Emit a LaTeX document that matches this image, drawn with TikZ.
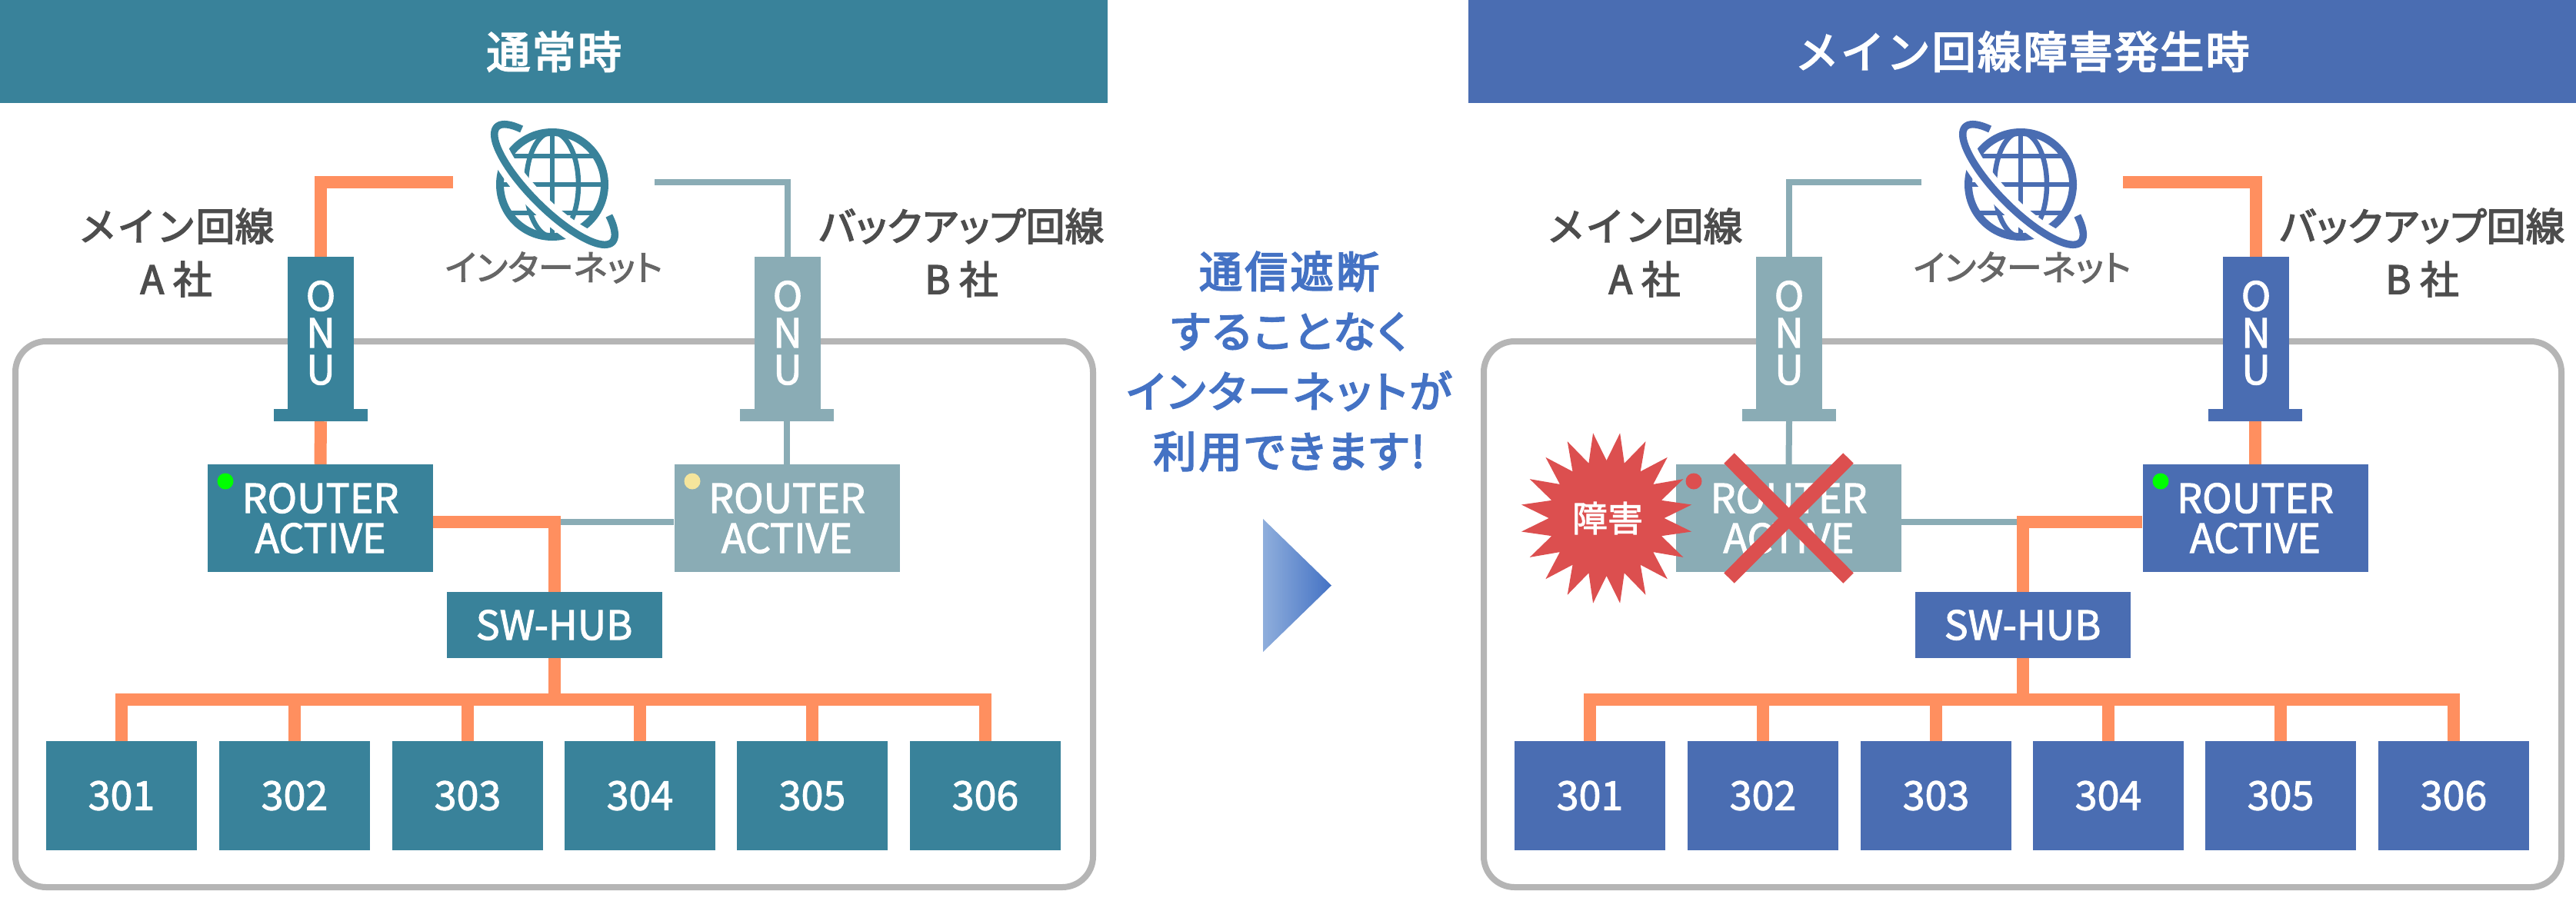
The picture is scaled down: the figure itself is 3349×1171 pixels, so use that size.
\documentclass[tikz,border=0pt]{standalone}
\usepackage{fontspec}
\setmainfont[FakeBold=2]{Noto Sans CJK JP}
\newfontfamily\palfont[RawFeature=+palt,FakeBold=2]{Noto Sans CJK JP}
\newfontfamily\medA[FakeBold=3,LetterSpace=1]{Noto Sans CJK JP}
\newfontfamily\medB[FakeBold=3,RawFeature=+palt,LetterSpace=1]{Noto Sans CJK JP}
\newfontfamily\wideA[FakeBold=3.5,LetterSpace=4]{Noto Sans CJK JP}
\newfontfamily\wideB[FakeBold=3.5,LetterSpace=6,RawFeature=+palt]{Noto Sans CJK JP}
\definecolor{teal}{HTML}{39829A}
\definecolor{blu}{HTML}{4A6DB2}
\definecolor{pale}{HTML}{8AACB5}
\definecolor{wireor}{HTML}{FF8F5F}
\definecolor{frm}{HTML}{B5B5B5}
\definecolor{redd}{HTML}{DC4F4F}
\definecolor{lab}{HTML}{4D4D4D}
\definecolor{nettx}{HTML}{666666}
\definecolor{ylw}{HTML}{F5E59C}
\definecolor{grn}{HTML}{00FF00}
\definecolor{msg}{HTML}{4472C4}
\definecolor{msgl}{HTML}{8FAEDC}
\tikzset{
  header/.style={fill=#1,inner sep=0pt,minimum height=134pt,minimum width=1440pt,text=white,
    font={\wideA\fontsize{57}{57}\selectfont}},
  devbox/.style={fill=#1,inner sep=0pt,text=white,align=center,
    font={\fontsize{52}{52}\selectfont}},
  routerbox/.style={devbox=#1,minimum width=293pt,minimum height=140pt},
  hubbox/.style={devbox=#1,minimum width=280pt,minimum height=86pt},
  roombox/.style={devbox=#1,minimum width=196pt,minimum height=142pt},
  onubody/.style={devbox=#1,minimum width=86pt,minimum height=198pt,font={\fontsize{52}{48}\selectfont}},
  onubase/.style={fill=#1,inner sep=0pt,minimum width=122pt,minimum height=16pt},
  thickwire/.style={draw=wireor,line width=16pt},
  thinwire/.style={draw=pale,line width=8pt},
  labeltext/.style={text=lab,inner sep=0pt,align=center,font={\medA\fontsize{50.5}{69}\selectfont}},
  labeltextb/.style={text=lab,inner sep=0pt,align=center,font={\medB\fontsize{50.5}{69}\selectfont}},
  nettext/.style={text=nettx,inner sep=0pt,font={\palfont\fontsize{46}{46}\selectfont}},
  dotmark/.style={fill=#1,draw=none,circle,inner sep=0pt,minimum size=21pt},
  msgtext/.style={text=msg,inner sep=0pt,align=center,font={\wideB\fontsize{56}{78}\selectfont}},
}
% #1 prefix, #2 main colour
\newcommand{\commonpanel}[2]{%
  \draw[frm,line width=8pt,rounded corners=40pt] (20,444) rectangle (1421,1154);
  % globe
  \draw[#2,line width=10pt] (718,240) circle (68);
  \begin{scope}
    \clip (718,240) circle (68);
    \draw[#2,line width=6.5pt] (718,172) -- (718,308);
    \draw[#2,line width=6.5pt] (640,203) -- (796,203);
    \draw[#2,line width=6.5pt] (640,240) -- (796,240);
    \draw[#2,line width=6.5pt] (640,277) -- (796,277);
    \draw[#2,line width=6.5pt] (718,240) ellipse (34 and 68);
  \end{scope}
  \draw[white,line width=26pt] plot[domain=-42:220,samples=80]
    ({721+106*cos(\x)*0.7071-32*sin(\x)*0.7071},{240+106*cos(\x)*0.7071+32*sin(\x)*0.7071});
  \draw[#2,line width=9.5pt] plot[domain=-42:220,samples=80]
    ({721+106*cos(\x)*0.7071-32*sin(\x)*0.7071},{240+106*cos(\x)*0.7071+32*sin(\x)*0.7071});
  \node[nettext] (#1net) at (720,348) {インターネット};
  % hub and rooms
  \node[hubbox=#2] (#1hub) at (720.5,813) {SW-HUB};
  \node[roombox=#2] (#1r1) at (158,1035) {301};
  \node[roombox=#2] (#1r2) at (383,1035) {302};
  \node[roombox=#2] (#1r3) at (608,1035) {303};
  \node[roombox=#2] (#1r4) at (832,1035) {304};
  \node[roombox=#2] (#1r5) at (1056,1035) {305};
  \node[roombox=#2] (#1r6) at (1281,1035) {306};
  \coordinate (#1bus) at (0,910);
  \draw[thickwire] (#1r1.north) -- (#1r1.north |- #1bus) -- (#1r6.north |- #1bus) -- (#1r6.north);
  \foreach \n in {2,3,4,5} \draw[thickwire] (#1r\n.north) -- (#1r\n.north |- #1bus);
  \draw[thickwire] (#1hub.south) -- (#1hub.south |- #1bus);
  \node[labeltext] (#1lmain) at (229,328.5) {メイン回線\\A 社};
}
\begin{document}
\begin{tikzpicture}[x=1pt,y=-1pt]
\useasboundingbox (0,0) rectangle (3349,1171);
\fill[white] (0,0) rectangle (3349,1171);

\node[header=teal,anchor=north west] (headA) at (0,0) {通常時};
\node[header=blu,anchor=north west] (headB) at (1909,0) {メイン回線障害発生時};

% ---------- left panel
\begin{scope}
  \commonpanel{a}{teal}
  \node[labeltextb] (alback) at (1250,328.5) {バックアップ回線\\B 社};
  \node[onubody=teal] (aonuL) at (417,433) {O\\N\\U};
  \node[onubase=teal] (abaseL) at (417,540) {};
  \node[onubody=pale] (aonuR) at (1024,433) {O\\N\\U};
  \node[onubase=pale] (abaseR) at (1023,540) {};
  \node[routerbox=teal] (arL) at (416.5,674) {ROUTER\\ACTIVE};
  \node[routerbox=pale] (arR) at (1023,674) {ROUTER\\ACTIVE};
  \node[dotmark=grn] at (293,626) {};
  \node[dotmark=ylw] at (900,626) {};
  \coordinate (anetL) at (589,237);
  \coordinate (anetR) at (851,237);
  \coordinate (ajoin) at (720,679);
  \draw[thickwire] (anetL) -| (aonuL.north);
  \draw[thinwire] (anetR) -| (aonuR.north);
  \draw[thickwire] (abaseL.south) -- (arL.north);
  \draw[thinwire] (abaseR.south) -- (arR.north);
  \draw[thinwire] (arR.west |- ajoin) -- (ajoin);
  \draw[thickwire] (arL.east |- ajoin) -| (ahub.north);
\end{scope}

% ---------- right panel
\begin{scope}[xshift=1909pt]
  \commonpanel{b}{blu}
  \node[labeltextb] (blback) at (1240,328.5) {バックアップ回線\\B 社};
  \node[onubody=pale] (bonuL) at (417,433) {O\\N\\U};
  \node[onubase=pale] (bbaseL) at (417,540) {};
  \node[onubody=blu] (bonuR) at (1024,433) {O\\N\\U};
  \node[onubase=blu] (bbaseR) at (1023,540) {};
  \node[routerbox=pale] (brL) at (416.5,674) {ROUTER\\ACTIVE};
  \node[routerbox=blu] (brR) at (1023,674) {ROUTER\\ACTIVE};
  \node[dotmark=grn] at (900,626) {};
  \coordinate (bnetL) at (589,237);
  \coordinate (bnetR) at (851,237);
  \coordinate (bjoin) at (720,679);
  \draw[thinwire] (bnetL) -| (bonuL.north);
  \draw[thickwire] (bnetR) -| (bonuR.north);
  \draw[thinwire] (bbaseL.south) -- (brL.north);
  \draw[thickwire] (bbaseR.south) -- (brR.north);
  \draw[thinwire] (brL.east |- bjoin) -- (bjoin);
  \draw[thickwire] (brR.west |- bjoin) -| (bhub.north);
\end{scope}

% fault marks
\node[dotmark=redd] at (2202,626) {};
\fill[redd] plot[samples at={0,9,...,351}]
  ({2088.6+(75+37*mod(\x,18)/9)*cos(\x)},{674+(75+37*mod(\x,18)/9)*sin(\x)}) -- cycle;
\node[text=white,inner sep=0pt,font={\fontsize{46}{46}\selectfont}] (fault) at (2090,674) {障害};
\coordinate (xa) at (2248,596);
\coordinate (xb) at (2403,752);
\coordinate (xc) at (2403,596);
\coordinate (xd) at (2248,752);
\draw[redd,line width=19pt] (xa) -- (xb);
\draw[redd,line width=19pt] (xc) -- (xd);

% centre message
\node[msgtext] (msgnode) at (1676,470) {通信遮断\\することなく\\インターネットが\\利用できます!};
\shade[left color=msgl,right color=msg] (1642,675) -- (1731,761.5) -- (1642,848) -- cycle;
\end{tikzpicture}
\end{document}
